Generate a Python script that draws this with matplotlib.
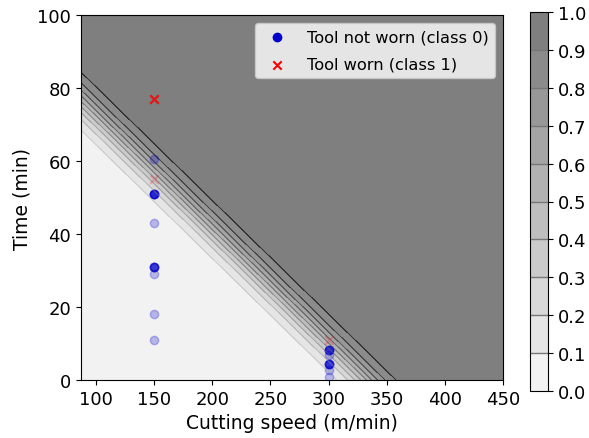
import numpy as np
import matplotlib
matplotlib.use("Agg")
import matplotlib.pyplot as plt

# logistic model fitted on the tool wear data (logit = a*speed + b*time + c)
coef_speed = 0.0862
coef_time = 0.277
intercept = -28.66

# class 0: tool not worn (duplicates overlap and darken)
speed_0 = [150, 150, 150, 150, 150, 150, 150, 150, 150, 150, 150, 150, 150, 150, 150, 150,
           300, 300, 300, 300, 300, 300, 300, 300, 300, 300, 300, 300, 300]
time_0 = [60.5, 51, 51, 51, 51, 51, 51, 43, 31, 31, 31, 31, 31, 29, 18, 11,
          8.2, 8.2, 8.2, 8.2, 8.2, 6.8, 4.4, 4.4, 4.4, 4.4, 4.4, 2.7, 0.8]

# class 1: tool worn
speed_1 = [150, 150, 150, 150, 150, 150, 150, 300]
time_1 = [77, 77, 77, 77, 77, 77, 55, 11]

levels = np.linspace(0, 1, 11)
xlim = (87, 450)
ylim = (0, 100)

xx, yy = np.meshgrid(np.linspace(xlim[0], xlim[1], 400), np.linspace(ylim[0], ylim[1], 400))
probs = 1 / (1 + np.exp(-(coef_speed * xx + coef_time * yy + intercept)))

fig = plt.figure(figsize=(5.89, 4.39), dpi=100)
ax = fig.add_axes([81/589, 58/439, 422/589, 365/439])
cax = fig.add_axes([530/589, 47/439, 18/589, 379/439])

cs = ax.contourf(xx, yy, probs, levels=levels, cmap="gray_r", alpha=0.5, vmin=-0.05, vmax=0.95)
ax.contour(xx, yy, probs, levels=levels[1:-1], cmap="gray_r", alpha=0.4, linewidths=0.8,
           vmin=-0.3, vmax=1.0)

ax.scatter(speed_0, time_0, c="#0000cc", alpha=0.25, label="Tool not worn (class 0)")
ax.scatter(speed_1, time_1, c="red", marker="x", alpha=0.25, label="Tool worn (class 1)")

ax.set_xlim(xlim)
ax.set_ylim(ylim)
ax.set_xticks(np.arange(100, 451, 50))
ax.set_yticks(np.arange(0, 101, 20))
ax.tick_params(labelsize=13)
ax.set_xlabel("Cutting speed (m/min)", fontsize=13.5)
ax.set_ylabel("Time (min)", fontsize=13.5)

leg = ax.legend(loc="upper right", fontsize=11.7, labelspacing=0.75)
for h in leg.legend_handles:
    h.set_alpha(1)

cb = fig.colorbar(cs, cax=cax, drawedges=True)
cb.set_ticks(levels)
cb.ax.tick_params(labelsize=13)
cb.dividers.set_color("#777777")
cb.dividers.set_linewidth(1)

fig.savefig("out.png", dpi=100)
